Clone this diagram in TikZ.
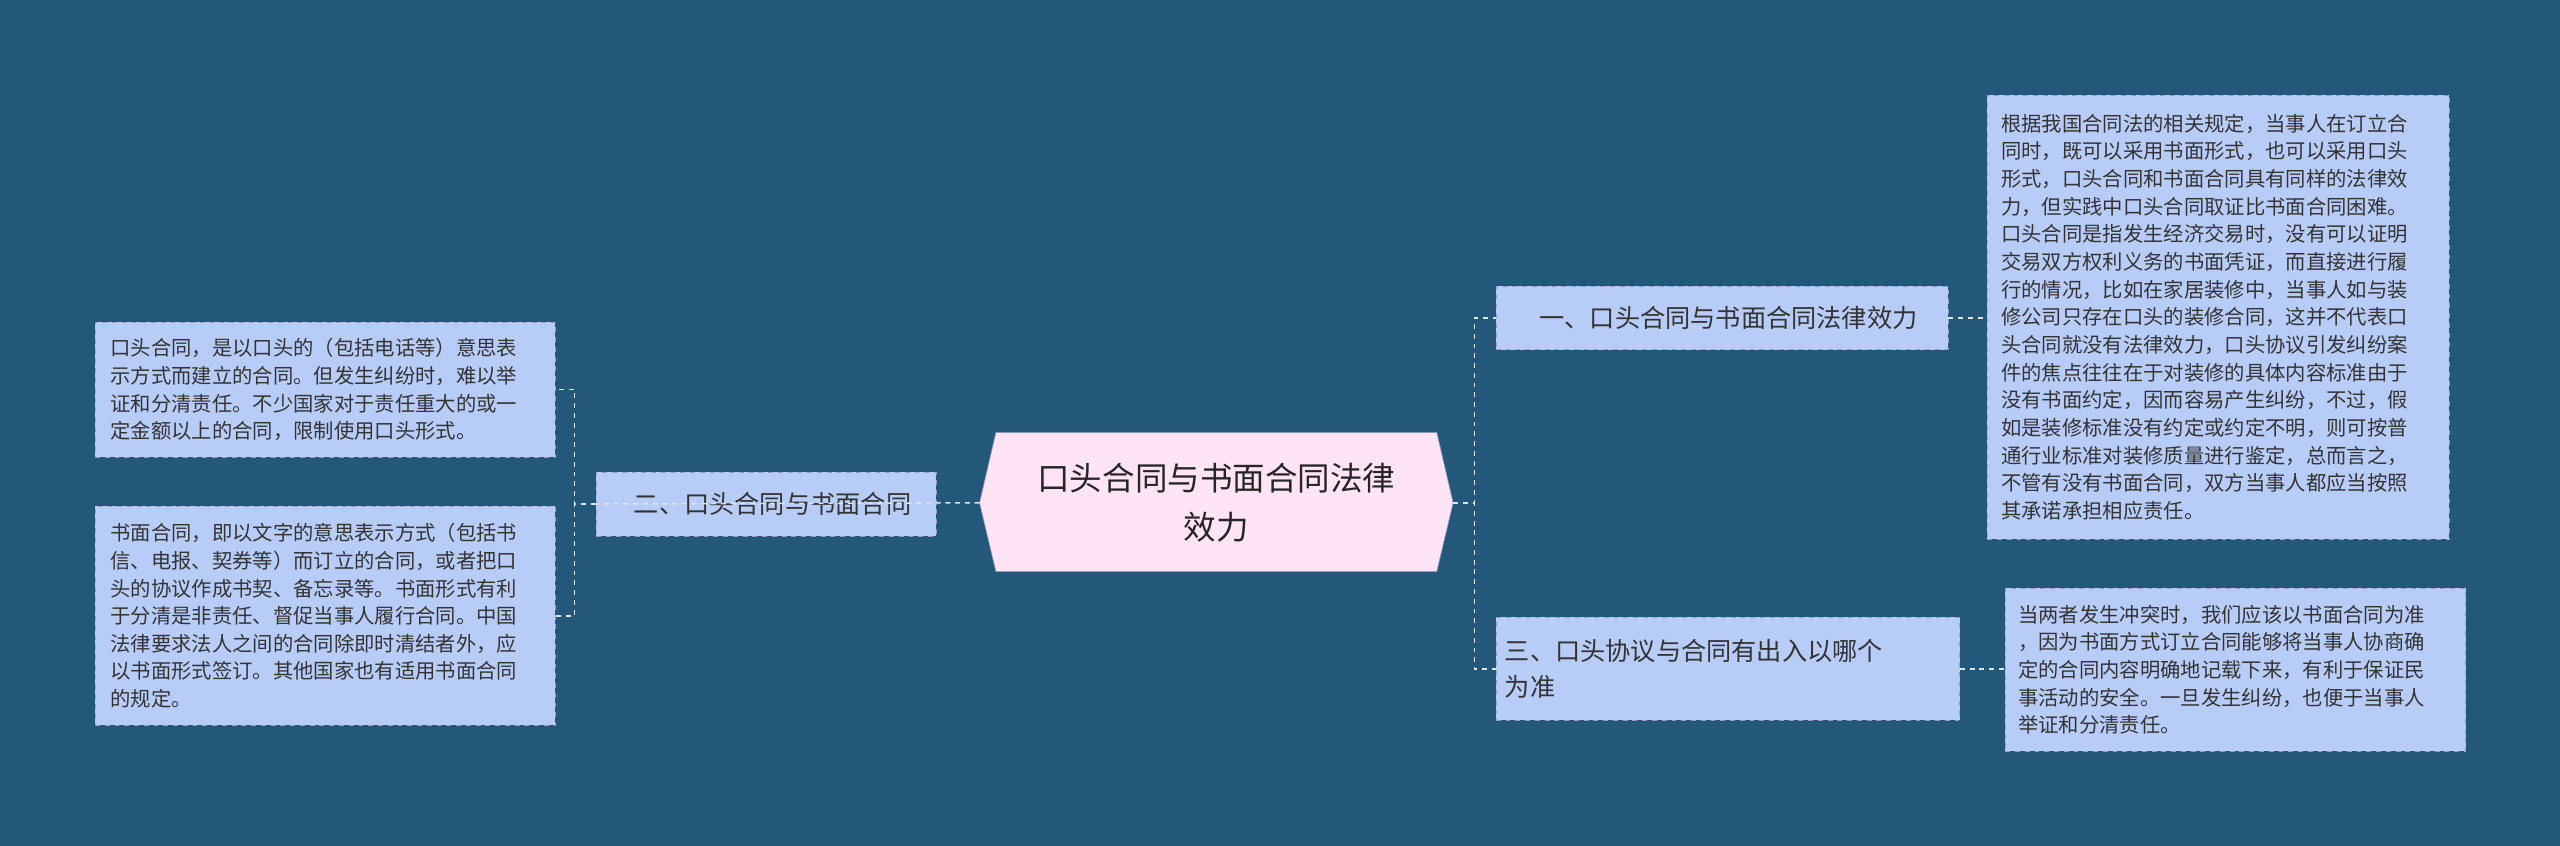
\documentclass[tikz,border=0pt]{standalone}
\usepackage{fontspec}
\newfontfamily\cjk{Noto Sans CJK SC}
\definecolor{bg}{RGB}{36,88,122}
\definecolor{leaf}{RGB}{184,204,248}
\definecolor{edge}{RGB}{150,160,190}
\definecolor{cen}{RGB}{255,228,246}
\begin{document}
\begin{tikzpicture}[x=1bp,y=-1bp,
 leafbox/.style={draw=edge,dashed,fill=leaf,inner sep=0pt,font=\cjk\fontsize{12.5}{17}\selectfont,text=black!80,align=left,anchor=north west},
 branchbox/.style={draw=edge,dashed,fill=leaf,inner sep=0pt,font=\cjk\fontsize{15.5}{22}\selectfont,text=black!80,align=left,anchor=north west},
 conn/.style={draw=white!85!bg,dashed,line width=0.9bp}]
\fill[bg] (0,0) rectangle (1568,518);
\useasboundingbox (0,0) rectangle (1568,518);
% center
\fill[cen,draw=edge] (610,265)--(880,265)--(890,308)--(880,350)--(610,350)--(600,308)--cycle;
\node[font=\cjk\fontsize{20}{30}\selectfont,align=center,text=black!85] (c) at (745,308) {口头合同与书面合同法律\\效力};
\coordinate (cl) at (600,308); \coordinate (cr) at (890,308);
% left branch
\node[branchbox,minimum width=208bp,minimum height=39bp] (b2) at (365,289) {\hspace{8bp}二、口头合同与书面合同};
\node[leafbox,minimum width=282bp,minimum height=83bp] (l1) at (58,197) {\hspace{7bp}\begin{minipage}[c]{270bp}\raggedright
口头合同，是以口头的（包括电话等）意思表\\示方式而建立的合同。但发生纠纷时，难以举\\证和分清责任。不少国家对于责任重大的或一\\定金额以上的合同，限制使用口头形式。\end{minipage}};
\node[leafbox,minimum width=282bp,minimum height=134bp] (l2) at (58,310) {\hspace{7bp}\begin{minipage}[c]{270bp}\raggedright
书面合同，即以文字的意思表示方式（包括书\\信、电报、契券等）而订立的合同，或者把口\\头的协议作成书契、备忘录等。书面形式有利\\于分清是非责任、督促当事人履行合同。中国\\法律要求法人之间的合同除即时清结者外，应\\以书面形式签订。其他国家也有适用书面合同\\的规定。\end{minipage}};
% right branches
\node[branchbox,minimum width=277bp,minimum height=39bp] (b1) at (916,175) {\hspace{8bp}一、口头合同与书面合同法律效力};
\node[branchbox,minimum width=284bp,minimum height=63bp] (b3) at (916,378) {\hspace{3bp}\begin{minipage}[c]{276bp}\raggedright
三、口头协议与合同有出入以哪个\\为准\end{minipage}};
\node[leafbox,minimum width=283bp,minimum height=272bp] (r1) at (1217,58) {\hspace{6bp}\begin{minipage}[c]{272bp}\raggedright
根据我国合同法的相关规定，当事人在订立合\\同时，既可以采用书面形式，也可以采用口头\\形式，口头合同和书面合同具有同样的法律效\\力，但实践中口头合同取证比书面合同困难。\\口头合同是指发生经济交易时，没有可以证明\\交易双方权利义务的书面凭证，而直接进行履\\行的情况，比如在家居装修中，当事人如与装\\修公司只存在口头的装修合同，这并不代表口\\头合同就没有法律效力，口头协议引发纠纷案\\件的焦点往往在于对装修的具体内容标准由于\\没有书面约定，因而容易产生纠纷，不过，假\\如是装修标准没有约定或约定不明，则可按普\\通行业标准对装修质量进行鉴定，总而言之，\\不管有没有书面合同，双方当事人都应当按照\\其承诺承担相应责任。\end{minipage}};
\node[leafbox,minimum width=282bp,minimum height=100bp] (r2) at (1228,360) {\hspace{6bp}\begin{minipage}[c]{272bp}\raggedright
当两者发生冲突时，我们应该以书面合同为准\\，因为书面方式订立合同能够将当事人协商确\\定的合同内容明确地记载下来，有利于保证民\\事活动的安全。一旦发生纠纷，也便于当事人\\举证和分清责任。\end{minipage}};
% connectors
\draw[conn] (cl) -- (b2.west);
\draw[conn] (b2.west) -- ++(-13,0) |- (l1.east);
\draw[conn] (b2.west) -- ++(-13,0) |- (l2.east);
\draw[conn] (cr) -- ++(13,0) |- (b1.west);
\draw[conn] (cr) -- ++(13,0) |- (b3.west);
\draw[conn] (b1.east) -- (r1.west |- b1.east);
\draw[conn] (b3.east) -- (r2.west |- b3.east);
\end{tikzpicture}
\end{document}
